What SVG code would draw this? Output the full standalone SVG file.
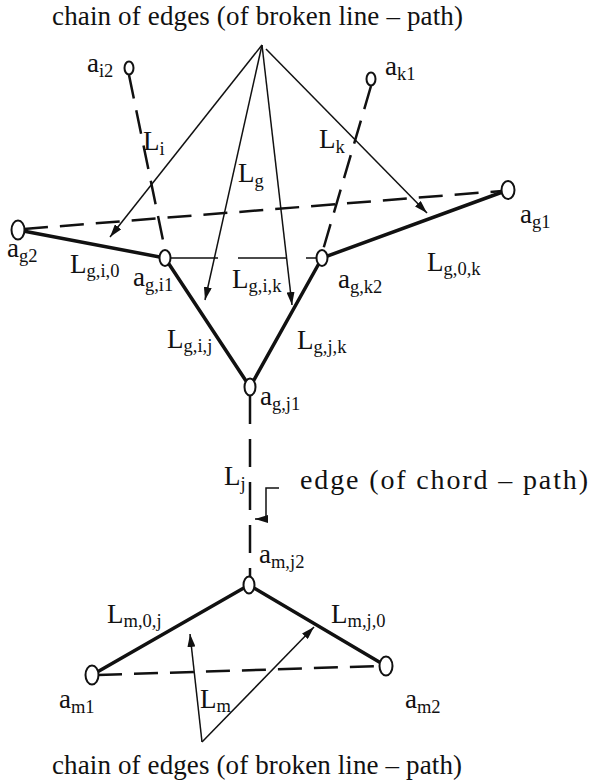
<svg xmlns="http://www.w3.org/2000/svg" width="591" height="782" viewBox="0 0 591 782">
<style>
text{font-family:"Liberation Serif","Times New Roman",serif;fill:#111}
.t{font-size:27px}
.l{font-size:27px}
.s{font-size:18.5px}
.node{fill:#fff;stroke:#111;stroke-width:2}
.thick{stroke:#111;stroke-width:3.5;fill:none;stroke-linecap:round}
.dash{stroke:#111;stroke-width:2.5;fill:none;stroke-dasharray:24 12}
.vdash{stroke:#111;stroke-width:2.5;fill:none;stroke-dasharray:28 15}
.thin{stroke:#111;stroke-width:1.5;fill:none}
.hdash{stroke:#111;stroke-width:1.5;fill:none;stroke-dasharray:48 20}
</style>
<defs>
<marker id="ah" viewBox="0 0 13 8" refX="13" refY="4" markerWidth="13" markerHeight="8" markerUnits="userSpaceOnUse" orient="auto">
<path d="M0,0 L13,4 L0,8 z" fill="#111"/>
</marker>
</defs>
<rect width="591" height="782" fill="#fff"/>

<g id="connectors">
<line class="dash" x1="24" y1="229" x2="502" y2="191"/>
<line class="dash" x1="129" y1="75" x2="165" y2="250"/>
<line class="dash" x1="371" y1="86" x2="323" y2="250"/>
<line class="vdash" x1="250" y1="396" x2="250" y2="577"/>
<line class="dash" x1="98" y1="675" x2="380" y2="666"/>
<line class="hdash" x1="170" y1="258" x2="317" y2="258"/>
<line class="thick" x1="18" y1="230" x2="165" y2="258"/>
<line class="thick" x1="165" y1="258" x2="250" y2="387"/>
<line class="thick" x1="322" y1="258" x2="250" y2="387"/>
<line class="thick" x1="322" y1="258" x2="508" y2="190"/>
<line class="thick" x1="92" y1="675" x2="249" y2="585"/>
<line class="thick" x1="249" y1="585" x2="386" y2="666"/>
<line class="thin" x1="262" y1="45" x2="110" y2="237" marker-end="url(#ah)"/>
<line class="thin" x1="262" y1="45" x2="205" y2="300" marker-end="url(#ah)"/>
<line class="thin" x1="262" y1="45" x2="292" y2="305" marker-end="url(#ah)"/>
<line class="thin" x1="266" y1="49" x2="427" y2="213" marker-end="url(#ah)"/>
<line class="thin" x1="202" y1="742" x2="190" y2="634" marker-end="url(#ah)"/>
<line class="thin" x1="202" y1="742" x2="314" y2="627" marker-end="url(#ah)"/>
<path class="thin" d="M279,488 H266 V519 H255" marker-end="url(#ah)"/>
</g>

<g id="n_ai2"><ellipse class="node" cx="129" cy="68" rx="4.5" ry="6.5"/></g>
<g id="n_ak1"><ellipse class="node" cx="371" cy="79" rx="4.5" ry="6.5"/></g>
<g id="n_ag2"><ellipse class="node" cx="18" cy="230" rx="6.5" ry="9.5"/></g>
<g id="n_ag1"><ellipse class="node" cx="508" cy="190" rx="6.5" ry="9"/></g>
<g id="n_agi1"><ellipse class="node" cx="165" cy="258" rx="5.5" ry="8"/></g>
<g id="n_agk2"><ellipse class="node" cx="322" cy="258" rx="5.5" ry="8"/></g>
<g id="n_agj1"><ellipse class="node" cx="250" cy="387" rx="5.5" ry="8.5"/></g>
<g id="n_amj2"><ellipse class="node" cx="249" cy="585" rx="5.5" ry="8.5"/></g>
<g id="n_am1"><ellipse class="node" cx="92" cy="675" rx="6.5" ry="9.5"/></g>
<g id="n_am2"><ellipse class="node" cx="386" cy="666" rx="6.5" ry="9.5"/></g>

<g id="labels">
<text class="t" x="52" y="25" textLength="411" lengthAdjust="spacing">chain of edges (of broken line – path)</text>
<text class="t" x="52" y="774" textLength="410" lengthAdjust="spacing">chain of edges (of broken line – path)</text>
<text class="t" x="300" y="489" style="font-size:28px" textLength="288" lengthAdjust="spacing">edge (of chord – path)</text>

<text class="l" x="87" y="72">a<tspan class="s" dy="5">i2</tspan></text>
<text class="l" x="385" y="75">a<tspan class="s" dy="5">k1</tspan></text>
<text class="l" x="143" y="150">L<tspan class="s" dy="5">i</tspan></text>
<text class="l" x="319" y="148">L<tspan class="s" dy="5">k</tspan></text>
<text class="l" x="238" y="182">L<tspan class="s" dy="5">g</tspan></text>
<text class="l" x="7" y="257">a<tspan class="s" dy="5">g2</tspan></text>
<text class="l" x="520" y="223">a<tspan class="s" dy="5">g1</tspan></text>
<text class="l" x="70" y="273">L<tspan class="s" dy="4">g,i,0</tspan></text>
<text class="l" x="427" y="271">L<tspan class="s" dy="4">g,0,k</tspan></text>
<text class="l" x="133" y="286">a<tspan class="s" dy="5">g,i1</tspan></text>
<text class="l" x="232" y="288">L<tspan class="s" dy="4">g,i,k</tspan></text>
<text class="l" x="338" y="288">a<tspan class="s" dy="5">g,k2</tspan></text>
<text class="l" x="167" y="348">L<tspan class="s" dy="4">g,i,j</tspan></text>
<text class="l" x="297" y="349">L<tspan class="s" dy="4">g,j,k</tspan></text>
<text class="l" x="260" y="405">a<tspan class="s" dy="5">g,j1</tspan></text>
<text class="l" x="224" y="485">L<tspan class="s" dy="5">j</tspan></text>
<text class="l" x="259" y="563">a<tspan class="s" dy="5">m,j2</tspan></text>
<text class="l" x="107" y="623">L<tspan class="s" dy="4">m,0,j</tspan></text>
<text class="l" x="331" y="623">L<tspan class="s" dy="4">m,j,0</tspan></text>
<text class="l" x="59" y="708">a<tspan class="s" dy="5">m1</tspan></text>
<text class="l" x="200" y="708">L<tspan class="s" dy="4">m</tspan></text>
<text class="l" x="405" y="708">a<tspan class="s" dy="5">m2</tspan></text>
</g>
</svg>
